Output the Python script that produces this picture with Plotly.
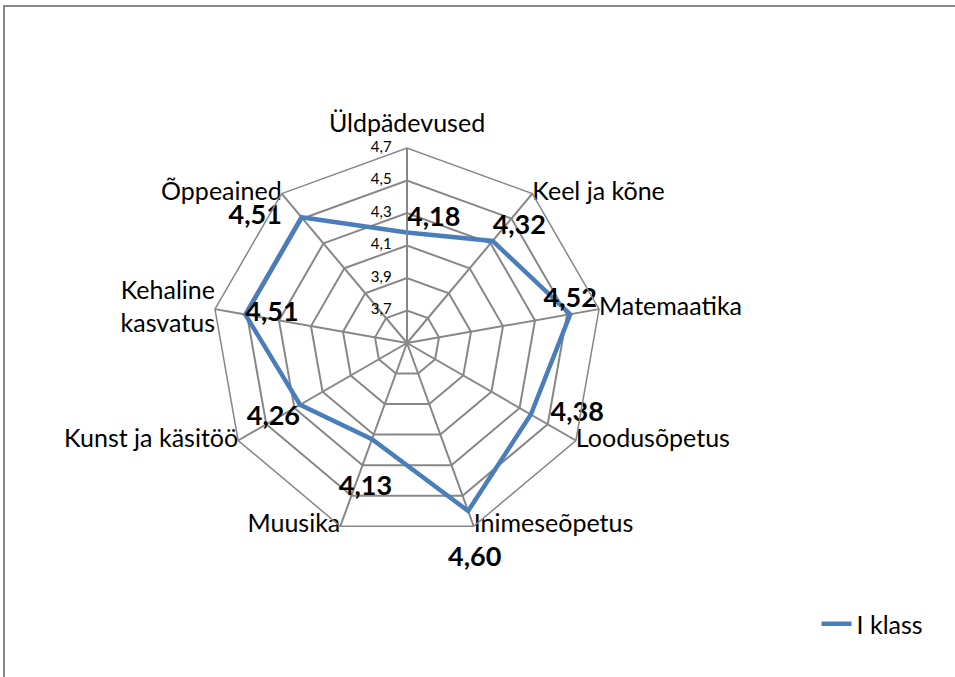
import plotly.graph_objects as go

categories = ["Üldpädevused", "Keel ja kõne", "Matemaatika", "Loodusõpetus",
              "Inimeseõpetus", "Muusika", "Kunst ja käsitöö",
              "Kehaline kasvatus", "Õppeained"]
category_text = ["Üldpädevused", "Keel ja kõne", "Matemaatika", "Loodusõpetus",
                 "Inimeseõpetus", "Muusika", "Kunst ja käsitöö",
                 "Kehaline<br>kasvatus", "Õppeained"]
values = [4.18, 4.32, 4.52, 4.38, 4.60, 4.13, 4.26, 4.51, 4.51]
series_name = "I klass"
r_min, r_max = 3.5, 4.7
tick_vals = [3.5, 3.7, 3.9, 4.1, 4.3, 4.5, 4.7]
tick_text = ["3,5", "3,7", "3,9", "4,1", "4,3", "4,5", "4,7"]

NB = "\u00a0"
label_pos = ["top right", "top right", "top center", "middle right",
             "bottom center", "bottom center", "bottom left", "middle right", "middle left"]
label_pre = ["", "", "", NB * 3, "<br>" + NB * 2, "<br>", "", "", ""]
label_post = ["", "", "", "", "", NB * 2, "", "", NB * 3]
# first category label is drawn by the angular axis, the rest as text
cat_pos = ["top center", "middle right", "middle right", "middle right",
           "middle right", "middle left", "middle left", "middle left", "middle left"]

W, H = 955, 677
cx, cy, R = 407, 343, 195
FONT = "Lato, sans-serif"
GRID = "#878787"

fig = go.Figure()
fig.add_trace(go.Scatterpolar(
    r=values + values[:1], theta=categories + categories[:1],
    mode="lines", name=series_name,
    line=dict(color="#4A7EBB", width=4.5),
    showlegend=True,
))
fig.add_trace(go.Scatterpolar(
    r=values, theta=categories, mode="text",
    text=[p + f"{v:.2f}".replace(".", ",") + q
          for p, v, q in zip(label_pre, values, label_post)],
    textposition=label_pos,
    textfont=dict(family=FONT, size=27, color="black", weight="bold"),
    showlegend=False, hoverinfo="skip", cliponaxis=False,
))
fig.add_trace(go.Scatterpolar(
    r=[r_max] * (len(categories) - 1), theta=categories[1:], mode="text",
    text=category_text[1:], textposition=cat_pos[1:],
    textfont=dict(family=FONT, size=25, color="black"),
    showlegend=False, hoverinfo="skip", cliponaxis=False,
))
# radial tick labels along the first spoke (horizontal, left of the axis)
fig.add_trace(go.Scatterpolar(
    r=tick_vals, theta=[categories[0]] * len(tick_vals), mode="text",
    text=[t + NB * 4 for t in tick_text], textposition="middle left",
    textfont=dict(family=FONT, size=15, color="black"),
    showlegend=False, hoverinfo="skip", cliponaxis=False,
))

fig.update_layout(
    width=W, height=H,
    margin=dict(l=0, r=0, t=0, b=0),
    paper_bgcolor="white",
    separators=", ",
    font=dict(family=FONT, color="black"),
    polar=dict(
        domain=dict(x=[(cx - R) / W, (cx + R) / W], y=[(H - cy - R) / H, (H - cy + R) / H]),
        bgcolor="white",
        gridshape="linear",
        angularaxis=dict(rotation=90, direction="clockwise",
                         gridcolor=GRID, gridwidth=1.5, linecolor=GRID, linewidth=1.5,
                         showline=True, ticks="outside", ticklen=5,
                         tickcolor="rgba(0,0,0,0)", showticklabels=True,
                         tickmode="array", tickvals=categories,
                         ticktext=[categories[0]] + [""] * (len(categories) - 1),
                         tickfont=dict(family=FONT, size=25, color="black")),
        radialaxis=dict(range=[r_min, r_max], tickvals=tick_vals, angle=90,
                        gridcolor=GRID, gridwidth=1.5, linecolor=GRID, linewidth=1.5,
                        showline=True, ticks="", showticklabels=False),
    ),
    legend=dict(x=0.855, y=1 - 624 / H, yanchor="middle", xanchor="left",
                font=dict(size=25, family=FONT), bgcolor="rgba(0,0,0,0)"),
    shapes=[dict(type="rect", xref="paper", yref="paper",
                 x0=4 / W, x1=1.2, y0=-0.2, y1=1 - 6 / H,
                 line=dict(color="#888888", width=2))],
)

fig.write_html("out.html", config={"displayModeBar": False},
               post_script="document.body.style.margin='0px';document.body.style.overflow='hidden';")
